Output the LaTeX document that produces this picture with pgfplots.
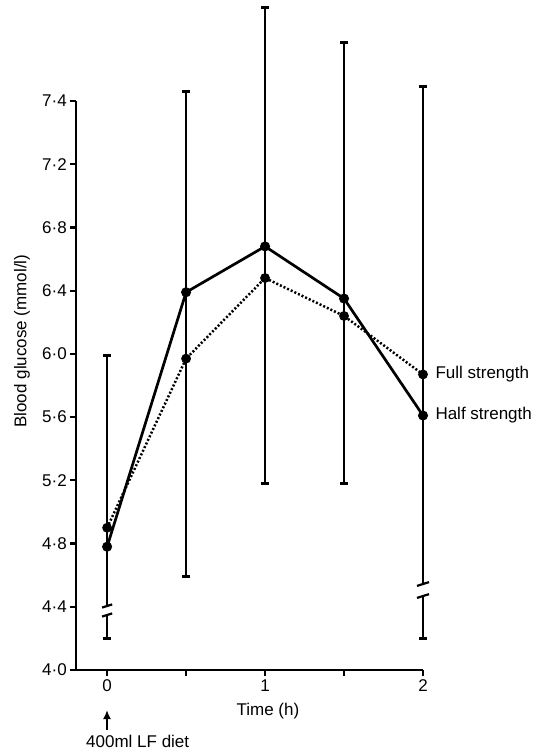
\documentclass[border=0pt]{standalone}
\usepackage{fontspec}
\setmainfont{Liberation Sans}
\usepackage{pgfplots}
\pgfplotsset{compat=1.18}
\usetikzlibrary{arrows.meta}
\pgfplotsset{
  ebar/.style={black, line width=1.8bp, no marks, forget plot},
  cap/.style={black, only marks, mark=-, mark size=4bp, mark options={line width=2.8bp}, forget plot},
  brk/.style={black, line width=2.2bp, no marks, forget plot},
}
\begin{document}
\begin{tikzpicture}[font=\fontsize{17bp}{20bp}\selectfont]
\useasboundingbox (-76bp,-80bp) rectangle (463bp,670bp);
\begin{axis}[
  at={(0,0)}, anchor=south west,
  scale only axis, width=347bp, height=569bp,
  xmin=-0.197, xmax=2, ymin=4, ymax=7.6,
  axis x line*=bottom, axis y line*=left,
  axis line style={line width=2.5bp, -},
  clip=false,
  tick align=outside, major tick length=6bp,
  every tick/.style={black, line width=2.2bp},
  xtick={0,0.5,1,1.5,2}, xticklabels={0,,1,,2},
  ytick={4,4.4,4.8,5.2,5.6,6,6.4,6.8,7.2,7.6},
  yticklabels={4·0,4·4,4·8,5·2,5·6,6·0,6·4,6·8,7·2,7·4},
  yticklabel style={inner xsep=3bp},
  xlabel={Time (h)}, ylabel={Blood glucose (mmol/l)},
  xlabel style={at={(axis description cs:0.553,-0.072)}, anchor=center},
  ylabel style={at={(axis description cs:-0.1556,0.578)}, anchor=center},
]
% error bars
\addplot[ebar] coordinates {(0,4.405) (0,5.99)};
\addplot[ebar] coordinates {(0,4.20) (0,4.348)};
\addplot[ebar] coordinates {(0.5,4.59) (0.5,7.66)};
\addplot[ebar] coordinates {(1,5.18) (1,8.19)};
\addplot[ebar] coordinates {(1.5,5.18) (1.5,7.97)};
\addplot[ebar] coordinates {(2,4.544) (2,7.69)};
\addplot[ebar] coordinates {(2,4.20) (2,4.468)};
\addplot[cap] coordinates {(0,5.99) (0,4.20) (0.5,4.59) (0.5,7.66) (1,5.18) (1,8.19) (1.5,5.18) (1.5,7.97) (2,7.69) (2,4.20)};
% break marks
\addplot[brk] coordinates {(-0.032,4.395) (0.032,4.415)};
\addplot[brk] coordinates {(-0.032,4.338) (0.032,4.358)};
\addplot[brk] coordinates {(1.962,4.532) (2.038,4.556)};
\addplot[brk] coordinates {(1.962,4.456) (2.038,4.480)};
% series
\addplot[black, line width=2.7bp, mark=*, mark size=3.6bp, mark options={solid}]
  coordinates {(0,4.78) (0.5,6.39) (1,6.68) (1.5,6.35) (2,5.61)};
\addplot[black, line width=2.5bp, dash pattern=on 2bp off 2bp, mark=*, mark size=3.6bp, mark options={solid}]
  coordinates {(0,4.90) (0.5,5.97) (1,6.48) (1.5,6.24) (2,5.87)};
\node[anchor=west, xshift=9bp] at (axis cs:2,5.87) {Full strength};
\node[anchor=west, xshift=9bp] at (axis cs:2,5.61) {Half strength};
\end{axis}
\draw[line width=2bp, -{Latex[length=9bp,width=8bp]}] (31bp,-60bp) -- (31bp,-40bp);
\node[anchor=base west, inner sep=0pt] at (10bp,-77bp) {400ml LF diet};
\end{tikzpicture}
\end{document}
